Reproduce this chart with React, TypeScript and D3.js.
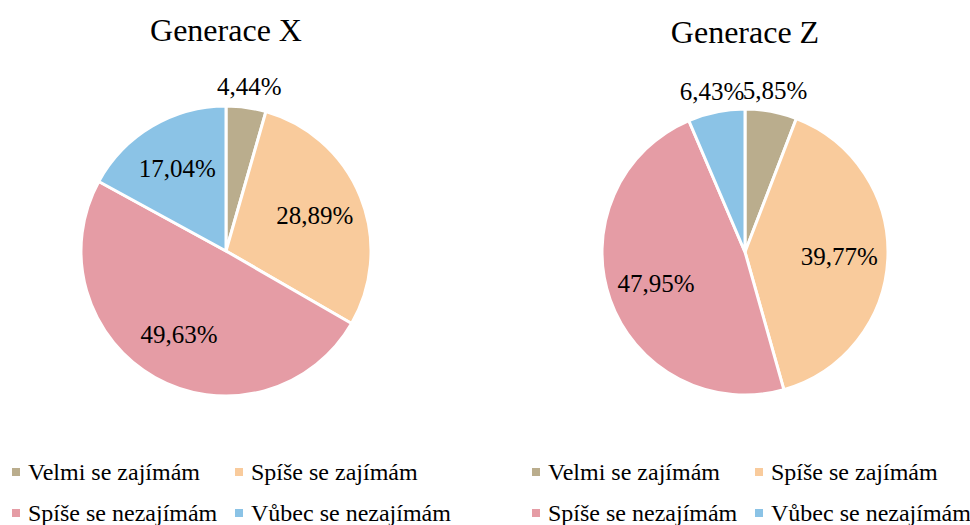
import * as d3 from 'd3';

// Categories and values (clockwise from 12 o'clock)
const categories = ['Velmi se zajímám', 'Spíše se zajímám', 'Spíše se nezajímám', 'Vůbec se nezajímám'];
const colors = ['#baad8d', '#f9cb9c', '#e59ca5', '#8bc3e6'];
const genXValues = [4.44, 28.89, 49.63, 17.04];
const genZValues = [5.85, 39.77, 47.95, 6.43];
const titles = ['Generace X', 'Generace Z'];

const WIDTH = 970;
const HEIGHT = 525;
const FONT = "'Times New Roman', 'Liberation Serif', 'DejaVu Serif', serif";

interface PieSpec {
  title: string;
  values: number[];
  cx: number;
  cy: number;
  r: number;
  titleY: number;
  legendX: number;
}

const fmt = (v: number) => `${v.toFixed(2).replace('.', ',')}%`;

function Pie({ spec }: { spec: PieSpec }) {
  const pie = d3
    .pie<number>()
    .sort(null)
    .value(d => d);
  const arcs = pie(spec.values);
  const arc = d3.arc<d3.PieArcDatum<number>>().innerRadius(0).outerRadius(spec.r);
  // centroid sits halfway between the radii -> ~0.66 r for inside labels
  const inner = d3.arc<d3.PieArcDatum<number>>().innerRadius(spec.r * 1.32).outerRadius(0);
  const outer = d3
    .arc<d3.PieArcDatum<number>>()
    .innerRadius(spec.r * 1.15)
    .outerRadius(spec.r * 1.15);

  return (
    <g>
      <text x={spec.cx} y={spec.titleY} textAnchor="middle" fontSize={32} fill="#000" fontFamily={FONT}>
        {spec.title}
      </text>
      <g transform={`translate(${spec.cx}, ${spec.cy})`}>
        {arcs.map((a, i) => (
          <path key={i} d={arc(a) ?? ''} fill={colors[i]} stroke="#ffffff" strokeWidth={3} />
        ))}
        {arcs.map((a, i) => {
          const [x, y] = a.data < 10 ? outer.centroid(a) : inner.centroid(a);
          return (
            <text
              key={i}
              x={x}
              y={y}
              dy="0.35em"
              textAnchor="middle"
              fontSize={25}
              fill="#000"
              fontFamily={FONT}
            >
              {fmt(a.data)}
            </text>
          );
        })}
      </g>
      {/* Legend: 2 x 2 grid */}
      {categories.map((c, i) => {
        const col = i % 2;
        const row = Math.floor(i / 2);
        const x = spec.legendX + col * 223;
        const y = 472 + row * 41;
        return (
          <g key={c} transform={`translate(${x}, ${y})`}>
            <rect x={0} y={-4} width={8} height={8} fill={colors[i]} />
            <text x={16} y={0} dy="0.33em" fontSize={24} fill="#000" fontFamily={FONT}>
              {c}
            </text>
          </g>
        );
      })}
    </g>
  );
}

export default function App() {
  const specs: PieSpec[] = [
    { title: titles[0], values: genXValues, cx: 226, cy: 251, r: 145, titleY: 41, legendX: 12 },
    { title: titles[1], values: genZValues, cx: 745, cy: 252, r: 143, titleY: 43, legendX: 532 },
  ];
  return (
    <svg
      width={WIDTH}
      height={HEIGHT}
      style={{ position: 'absolute', top: 0, left: 0, background: '#ffffff' }}
    >
      {specs.map(s => (
        <Pie key={s.title} spec={s} />
      ))}
    </svg>
  );
}
